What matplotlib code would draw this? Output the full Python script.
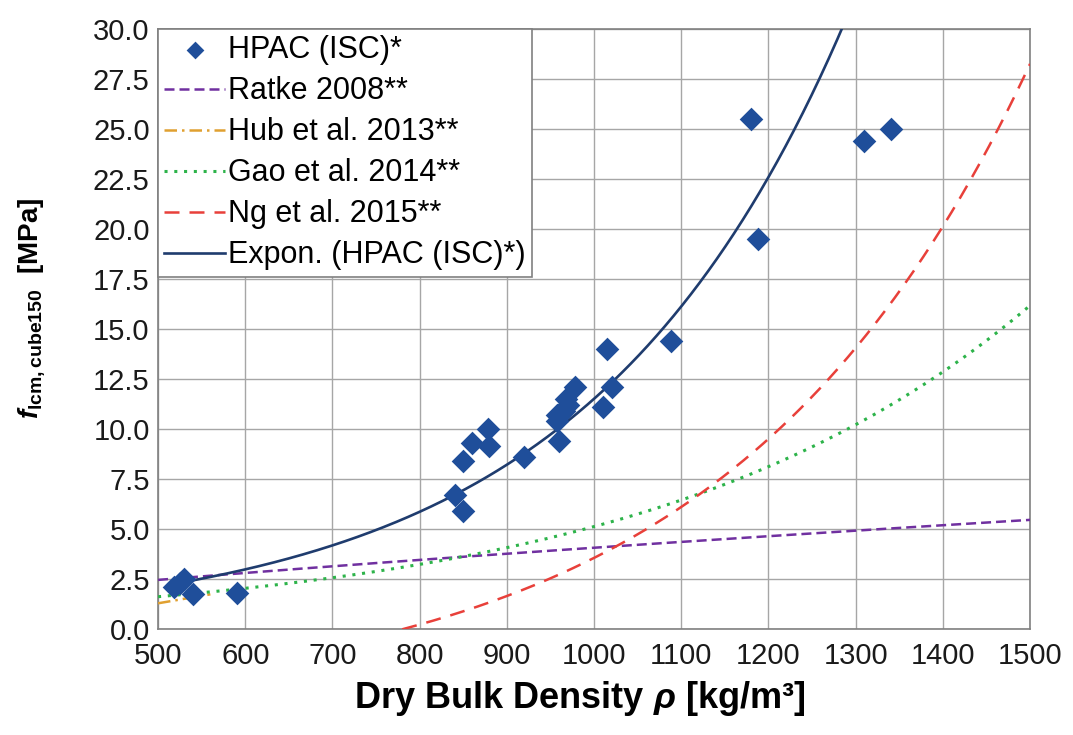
import numpy as np
import matplotlib
matplotlib.use("Agg")
import matplotlib.pyplot as plt

plt.rcParams['font.family'] = ['Liberation Sans', 'DejaVu Sans']
plt.rcParams['mathtext.fontset'] = 'custom'
plt.rcParams['mathtext.it'] = 'Liberation Sans:italic:bold'
plt.rcParams['mathtext.bf'] = 'Liberation Sans:bold'
plt.rcParams['mathtext.rm'] = 'Liberation Sans:bold'

# ---- data ----
density = [518, 525, 530, 540, 590, 840, 850, 850, 860, 878, 880, 920, 957, 958,
           960, 965, 968, 970, 978, 1010, 1015, 1020, 1088, 1180, 1188, 1310, 1340]
strength = [2.1, 2.3, 2.5, 1.75, 1.8, 6.7, 5.9, 8.4, 9.3, 10.0, 9.15, 8.6, 10.4, 10.7,
            9.4, 10.9, 11.5, 11.2, 12.1, 11.1, 14.0, 12.1, 14.4, 25.5, 19.5, 24.4, 25.0]

# exponential trendline of the HPAC data, f = a*exp(b*rho)
trend_a, trend_b = 0.3968, 0.003369

# literature model parameters
ratke_a, ratke_n = 2.47, 0.724          # f = a * (rho/500)^n
hub_start, hub_end = (500, 1.3), (560, 1.75)
gao_a, gao_b = 1.63, 0.002296           # f = a * exp(b*(rho-500))
ng_a, ng_b, ng_x0 = 4.0, 0.0029, 780    # f = a * (exp(b*(rho-x0)) - 1)

xticks = [500, 600, 700, 800, 900, 1000, 1100, 1200, 1300, 1400, 1500]
yticks = [0.0, 2.5, 5.0, 7.5, 10.0, 12.5, 15.0, 17.5, 20.0, 22.5, 25.0, 27.5, 30.0]

fig = plt.figure(figsize=(10.73, 7.35), dpi=100)
ax = fig.add_axes([0.1473, 0.1438, 0.8127, 0.8163])

xs = np.linspace(500, 1500, 600)
ax.plot(xs, ratke_a * (xs / 500.0) ** ratke_n, color='#7030A0', lw=1.8,
        dashes=(4, 2), label='Ratke 2008**', zorder=3)
xh = np.linspace(hub_start[0], hub_end[0], 20)
ax.plot(xh, np.interp(xh, [hub_start[0], hub_end[0]], [hub_start[1], hub_end[1]]),
        color='#E0A030', lw=1.8, dashes=(5, 2, 1, 2), label='Hub et al. 2013**', zorder=3)
ax.plot(xs, gao_a * np.exp(gao_b * (xs - 500)), color='#2DB34A', lw=2.2,
        dashes=(1, 2.2), label='Gao et al. 2014**', zorder=3)
xn = np.linspace(ng_x0, 1500, 400)
ax.plot(xn, ng_a * (np.exp(ng_b * (xn - ng_x0)) - 1), color='#E8403A', lw=1.8,
        dashes=(6, 4), label='Ng et al. 2015**', zorder=3)

xf = np.linspace(min(density), max(density), 500)
ax.scatter(density, strength, marker='D', s=145, color='#1F4E9A', zorder=5,
           label='HPAC (ISC)*', linewidths=0)
ax.plot(xf, trend_a * np.exp(trend_b * xf), color='#1F3C6E', lw=1.9,
        label='Expon. (HPAC (ISC)*)', zorder=4)

ax.set_xlim(500, 1500)
ax.set_ylim(0, 30)
ax.set_xticks(xticks)
ax.set_yticks(yticks)
ax.set_yticklabels([f"{v:.1f}" for v in yticks])
ax.tick_params(length=0, labelsize=21, colors='#1a1a1a')
ax.tick_params(axis='x', pad=9)
ax.tick_params(axis='y', pad=6)
ax.grid(True, color='#A6A6A6', lw=1.0)
ax.set_axisbelow(True)
for s in ax.spines.values():
    s.set_color('#808080')
    s.set_linewidth(1.2)

ax.set_xlabel(r"Dry Bulk Density $\rho$ [kg/m³]", fontsize=26, fontweight='bold')
ax.xaxis.set_label_coords(0.484, -0.115)
ax.xaxis.label.set_va('center')
ax.set_ylabel(r"$f_{\mathbf{lcm,cube150}}$  [MPa]", fontsize=20, fontweight='bold')
ax.yaxis.set_label_coords(-0.145, 0.535)
ax.yaxis.label.set_va('center')

handles, labels = ax.get_legend_handles_labels()
order = ['HPAC (ISC)*', 'Ratke 2008**', 'Hub et al. 2013**', 'Gao et al. 2014**',
         'Ng et al. 2015**', 'Expon. (HPAC (ISC)*)']
hmap = dict(zip(labels, handles))
leg = ax.legend([hmap[l] for l in order], order, loc='upper left', fontsize=22,
                frameon=True, fancybox=False, framealpha=1, edgecolor='#808080',
                borderpad=0.2, labelspacing=0.36, handlelength=2.0, handletextpad=0.1,
                borderaxespad=0.0, scatterpoints=1, markerscale=0.75)
leg.get_frame().set_linewidth(1.2)

fig.savefig("out.png", dpi=100)
